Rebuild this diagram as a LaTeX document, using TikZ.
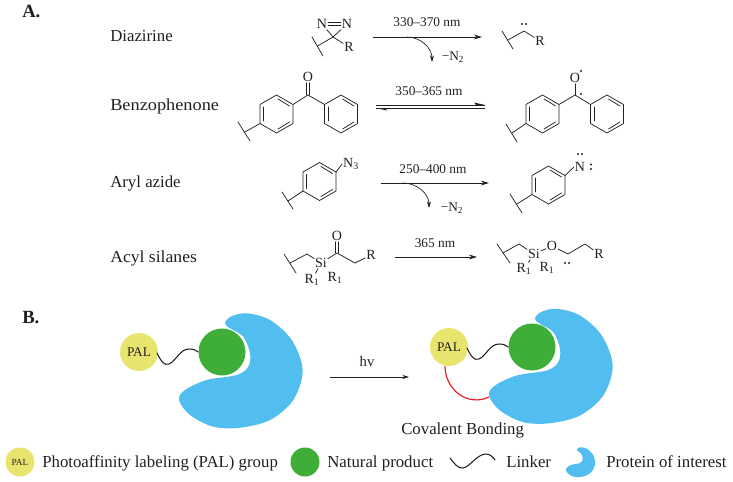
\documentclass[tikz,border=0pt]{standalone}
\usepackage{fontspec}
\usepackage{graphicx}
\setmainfont{Liberation Serif}
\usetikzlibrary{arrows.meta}
\definecolor{blobblue}{HTML}{52BEF0}
\definecolor{natgreen}{HTML}{3FAE38}
\definecolor{palyellow}{HTML}{E8E56F}
\definecolor{bondred}{HTML}{E8202A}
\definecolor{inkc}{HTML}{231F20}
\tikzset{
  lbl/.style={font=\fontsize{12.6pt}{14pt}\selectfont,text=inkc,inner sep=0pt,anchor=base west},
  head/.style={font=\fontsize{14pt}{16pt}\selectfont\bfseries,text=inkc,inner sep=0pt,anchor=base west},
  atom/.style={font=\fontsize{10.5pt}{12pt}\selectfont,text=inkc,inner sep=0.6pt},
  cond/.style={font=\fontsize{10pt}{12pt}\selectfont,text=inkc,inner sep=0pt},
  bond/.style={draw=inkc,line width=0.55pt,line cap=round},
  rxn/.style={draw=inkc,line width=0.7pt,-{Stealth[length=6pt,width=3.6pt]}},
  wig/.style={draw=inkc,line width=0.8pt,line cap=round},
  dotm/.style={circle,fill=inkc,inner sep=0pt,minimum size=1.6pt},
}
\newcommand{\benzring}[3]{% name, cx, cy
  \coordinate (#1t) at (#2,#3-19);
  \coordinate (#1ur) at (#2+16.5,#3-9.5);
  \coordinate (#1lr) at (#2+16.5,#3+9.5);
  \coordinate (#1b) at (#2,#3+19);
  \coordinate (#1ll) at (#2-16.5,#3+9.5);
  \coordinate (#1ul) at (#2-16.5,#3-9.5);
  \draw[bond,line join=round] (#1t)--(#1ur)--(#1lr)--(#1b)--(#1ll)--(#1ul)--cycle;
  \draw[bond] (#2-13,#3-7)--(#2-13,#3+7);
  \draw[bond] (#2+1.5,#3-15)--(#2+13,#3-8);
  \draw[bond] (#2+1.5,#3+15)--(#2+13,#3+8);
}
\newcommand{\blobpath}{plot[smooth cycle,tension=0.55] coordinates{(225,323.3)(230.7,316.7)(246.7,313.3)(270,320)(291.7,340)(302.7,370)(293.3,400)(270,420)(240,427.7)(213.3,426.7)(190,415)(179,400)(185,390)(206.7,380)(236.7,375)(248.3,366.7)(250,353.3)(243.3,336.7)(230,328.3)}}
\begin{document}
\begin{tikzpicture}[x=0.75pt,y=-0.75pt]
\useasboundingbox (0,0) rectangle (733,482);

% headings
\node[head] (hA) at (22,17) {A.};
\node[head] (hB) at (22,323) {B.};
\node[lbl] (l1) at (110,41) {Diazirine};
\node[lbl] (l2) at (110,110) {\scalebox{1.09}[1]{Benzophenone}};
\node[lbl] (l3) at (110,187) {Aryl azide};
\node[lbl] (l4) at (110,262) {\scalebox{1.05}[1]{Acyl silanes}};

% diazirine
\node[atom] (dn1) at (322,24) {N};
\node[atom] (dn2) at (347,24) {N};
\coordinate (dc) at (333,37);
\node[atom] (dr) at (349,47) {R};
\coordinate (dw) at (317.5,46);
\draw[bond] ([yshift=-1pt]dn1.east)--([yshift=-1pt]dn2.west);
\draw[bond] ([yshift=1pt]dn1.east)--([yshift=1pt]dn2.west);
\draw[bond] (dn1)--(dc)--(dn2);
\draw[bond] (dc)--(dr);
\draw[bond] (dc)--(dw);
\coordinate (dw1) at (312,37); \coordinate (dw2) at (323,56);
\draw[bond] (dw1)--(dw2);
% diazirine arrow
\coordinate (da1) at (373,37); \coordinate (da2) at (482,37);
\draw[rxn] (da1)--(da2);
\node[cond] (dt) at (427,22) {330--370 nm};
\coordinate (dc1) at (407,37); \coordinate (dc2) at (432,62);
\draw[draw=inkc,line width=0.5pt,-{Stealth[length=5pt,width=3pt]}] (dc1) to[out=0,in=90] (dc2);
\node[cond] (dm) at (453,57) {−N\textsubscript{2}};
% diazirine product
\coordinate (dpw1) at (502,31); \coordinate (dpw2) at (513,49);
\coordinate (dpa) at (508,40); \coordinate (dpb) at (524,31);
\node[atom] (dpr) at (540,41) {R};
\draw[bond] (dpw1)--(dpw2);
\draw[bond] (dpa)--(dpb)--(dpr);
\node[dotm] (dpd1) at (522,24) {};
\node[dotm] (dpd2) at (526,24) {};

% benzophenone
\benzring{ba}{276.5}{114}
\benzring{bb}{341}{114}
\coordinate (bc) at (308,95);
\node[atom] (bo) at (308,77) {O};
\draw[bond] (baur)--(bc)--(bbul);
\draw[bond] ([xshift=-1pt]bc)--([xshift=-1pt]bo.south);
\draw[bond] ([xshift=1pt]bc)--([xshift=1pt]bo.south);
\coordinate (bw1) at (238,122); \coordinate (bw2) at (250,141); \coordinate (bwm) at (245,132);
\draw[bond] (bw1)--(bw2);
\draw[bond] (ball)--(bwm);
% equilibrium arrows
\coordinate (ea1) at (376,105); \coordinate (ea2) at (485,105);
\coordinate (eb1) at (485,108); \coordinate (eb2) at (376,108);
\draw[draw=inkc,line width=0.6pt] (ea1)--(ea2);
\draw[draw=inkc,line width=0.6pt] (eb1)--(eb2);
\fill[inkc] (ea2)--(476,105)--(474,102.5)--cycle;
\fill[inkc] (eb2)--(385,108)--(387,110.5)--cycle;
\node[cond] (bt) at (429,91) {350--365 nm};
% benzophenone product
\benzring{bpa}{542.5}{114}
\benzring{bpb}{607}{114}
\coordinate (bpc) at (575,95);
\node[atom] (bpo) at (575,78) {O};
\draw[bond] (bpaur)--(bpc)--(bpbul);
\draw[bond] (bpc)--(bpo.south);
\coordinate (bpw1) at (506,124); \coordinate (bpw2) at (517,142); \coordinate (bpwm) at (512,133);
\draw[bond] (bpw1)--(bpw2);
\draw[bond] (bpall)--(bpwm);
\node[dotm] (bpd1) at (581,71) {};
\node[dotm] (bpd2) at (581,94) {};

% aryl azide
\benzring{aa}{319.5}{181.5}
\node[atom] (an) at (351,164) {N\textsubscript{3}};
\draw[bond] (aaur)--(an.west);
\coordinate (aw1) at (282,192); \coordinate (aw2) at (293,209); \coordinate (awm) at (288,201);
\draw[bond] (aw1)--(aw2);
\draw[bond] (aall)--(awm);
\coordinate (aa1) at (381,183); \coordinate (aa2) at (489,183);
\draw[rxn] (aa1)--(aa2);
\node[cond] (at) at (433,169) {250--400 nm};
\coordinate (ac1) at (403,183); \coordinate (ac2) at (429,208);
\draw[draw=inkc,line width=0.5pt,-{Stealth[length=5pt,width=3pt]}] (ac1) to[out=0,in=90] (ac2);
\node[cond] (am) at (452,208) {−N\textsubscript{2}};
\benzring{ap}{548.5}{185}
\node[atom] (apn) at (580,167) {N};
\draw[bond] (apur)--(apn.west);
\coordinate (apw1) at (510,194); \coordinate (apw2) at (522,213); \coordinate (apwm) at (517,204);
\draw[bond] (apw1)--(apw2);
\draw[bond] (apll)--(apwm);
\node[dotm] (apd1) at (578,154) {};
\node[dotm] (apd2) at (582,154) {};
\node[dotm] (apd3) at (591,164.5) {};
\node[dotm] (apd4) at (591,169) {};

% acyl silane
\coordinate (sw1) at (284,254); \coordinate (sw2) at (296,273);
\coordinate (sa) at (290,263); \coordinate (sb) at (307,254);
\node[atom] (ssi) at (321,263) {Si};
\coordinate (sc) at (337,253);
\node[atom] (so) at (337,236) {O};
\coordinate (sd) at (355,263);
\node[atom] (sr) at (371,255) {R};
\node[atom] (sr1) at (312,280) {R\textsubscript{1}};
\node[atom] (sr2) at (335,278) {R\textsubscript{1}};
\draw[bond] (sw1)--(sw2);
\draw[bond] (sa)--(sb)--(ssi);
\draw[bond] (ssi)--(sc)--(sd)--(sr);
\draw[bond] ([xshift=-1pt]sc)--([xshift=-1pt]so.south);
\draw[bond] ([xshift=1pt]sc)--([xshift=1pt]so.south);
\draw[bond] (ssi)--(sr1);
\coordinate (sa1) at (395,257); \coordinate (sa2) at (477,257);
\draw[rxn] (sa1)--(sa2);
\node[cond] (st) at (435,243) {365 nm};
% acyl silane product
\coordinate (tw1) at (497,244); \coordinate (tw2) at (510,263);
\coordinate (ta) at (503,253); \coordinate (tb) at (519,244);
\node[atom] (tsi) at (534,254) {Si};
\node[atom] (to) at (552,246) {O};
\coordinate (tc) at (568,254); \coordinate (td) at (585,244);
\node[atom] (tr) at (599,254) {R};
\node[atom] (tr1) at (524,269) {R\textsubscript{1}};
\node[atom] (tr2) at (547,268) {R\textsubscript{1}};
\draw[bond] (tw1)--(tw2);
\draw[bond] (ta)--(tb)--(tsi)--(to)--(tc)--(td)--(tr);
\draw[bond] (tsi)--(tr1);
\node[dotm] (td1) at (565,263) {};
\node[dotm] (td2) at (569,263) {};

% part B left
\fill[blobblue] \blobpath;
\node[circle,fill=natgreen,minimum size=35.25pt,inner sep=0pt] (ng) at (222,352) {};
\node[circle,fill=palyellow,minimum size=28.5pt,inner sep=0pt,font=\fontsize{10pt}{12pt}\selectfont,text=inkc] (pal) at (139,352) {PAL};
\draw[wig] (157,353) .. controls (161,361) and (164,366) .. (169,364) .. controls (176,361) and (180,349) .. (189,349) .. controls (193,349) and (196,350) .. (ng.west);

% hv arrow
\coordinate (h1) at (330,377); \coordinate (h2) at (409,377);
\draw[draw=inkc,line width=0.5pt,-{Stealth[length=5pt,width=3pt]}] (h1)--(h2);
\node[font=\fontsize{11pt}{13pt}\selectfont,text=inkc,inner sep=0pt] (hv) at (367,361) {hv};

% part B right
\begin{scope}[shift={(310,-4.5)}]
\fill[blobblue] \blobpath;
\end{scope}
\node[circle,fill=natgreen,minimum size=35.25pt,inner sep=0pt] (ng2) at (532,347) {};
\node[circle,fill=palyellow,minimum size=28.5pt,inner sep=0pt,font=\fontsize{10pt}{12pt}\selectfont,text=inkc] (pal2) at (449,347) {PAL};
\draw[wig] (467,348) .. controls (471,356) and (474,361) .. (479,359) .. controls (486,356) and (490,344) .. (499,344) .. controls (503,344) and (506,345) .. (ng2.west);
\coordinate (rs) at (445,366);
\coordinate (rb) at (489,397);
\draw[draw=bondred,line width=0.9pt] (rs) .. controls (445,390) and (468,407) .. (rb);
\node[lbl] (cb) at (401,434) {Covalent Bonding};

% legend
\node[circle,fill=palyellow,minimum size=21.75pt,inner sep=0pt,font=\fontsize{7pt}{8pt}\selectfont,text=inkc] (lp) at (20,462) {PAL};
\node[lbl] (lpt) at (42,467) {Photoaffinity labeling (PAL) group};
\node[circle,fill=natgreen,minimum size=21.75pt,inner sep=0pt] (ln) at (305,462) {};
\node[lbl] (lnt) at (327,467) {Natural product};
\draw[wig] (450,458) .. controls (454,463) and (458,469) .. (463,468) .. controls (470,467) and (477,454) .. (486,454) .. controls (490,454) and (493,457) .. (495,460);
\node[lbl] (llt) at (506,467) {Linker};
\begin{scope}[shift={(580.5,462)},xscale=0.24,yscale=0.26,shift={(-241,-370)}]
\fill[blobblue] \blobpath;
\end{scope}
\node[lbl] (lbt) at (606,467) {Protein of interest};
\end{tikzpicture}
\end{document}
